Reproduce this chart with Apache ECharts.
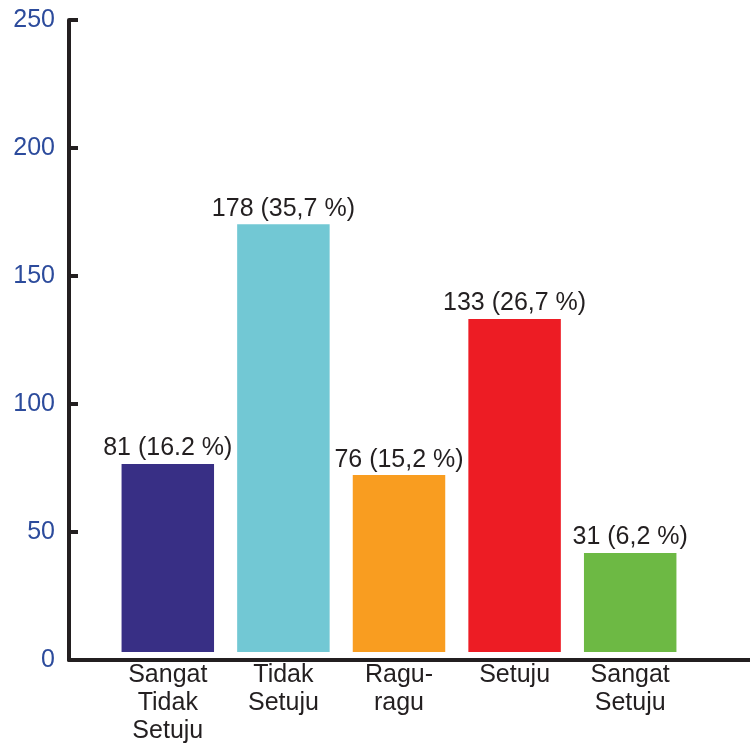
<!DOCTYPE html>
<html>
<head>
<meta charset="utf-8">
<script src="https://cdn.jsdelivr.net/npm/echarts@6/dist/echarts.min.js"></script>
<style>
  html, body { margin: 0; padding: 0; background: #fff; }
  #chart { width: 750px; height: 749px; }
</style>
</head>
<body>
<div id="chart"></div>
<script>
// categories under the bars
const categories = ['Sangat\nTidak\nSetuju', 'Tidak\nSetuju', 'Ragu-\nragu', 'Setuju', 'Sangat\nSetuju']
// bar heights as drawn (they sit a little above the x axis line)
const barHeights = [73.6, 167.4, 69.2, 130.3, 38.7]
// text printed above each bar
const barLabels = ['81 (16.2 %)', '178 (35,7 %)', '76 (15,2 %)', '133 (26,7 %)', '31 (6,2 %)']
const barColors = ['#382f85', '#72c8d4', '#f99d20', '#ed1c24', '#6db944']
const yTicks = [0, 50, 100, 150, 200, 250]

const font = "'Liberation Sans', Arial, sans-serif"
const ink = '#231f20'

const chart = echarts.init(document.getElementById('chart'))

const option = {
  animation: false,
  backgroundColor: '#fff',
  grid: [
    // frame: y axis + long x axis line
    { left: 69, right: 0, top: 20, bottom: 89 },
    // bars
    { left: 110, right: 62, top: 13, bottom: 97 }
  ],
  xAxis: [
    {
      gridIndex: 0,
      type: 'value',
      min: 0,
      max: 1,
      axisLine: { show: true, onZero: false, lineStyle: { color: ink, width: 4 } },
      axisTick: { show: false },
      axisLabel: { show: false },
      splitLine: { show: false }
    },
    {
      gridIndex: 1,
      type: 'category',
      data: categories,
      axisLine: { show: false },
      axisTick: { show: false },
      axisLabel: {
        margin: 9,
        fontFamily: font,
        fontSize: 25,
        lineHeight: 28,
        color: ink,
        interval: 0
      }
    }
  ],
  yAxis: [
    {
      gridIndex: 0,
      type: 'value',
      min: 0,
      max: 250,
      interval: 50,
      axisLine: { show: true, lineStyle: { color: ink, width: 4 } },
      axisTick: { show: true, inside: true, length: 9, lineStyle: { color: ink, width: 4 } },
      axisLabel: {
        margin: 14,
        fontFamily: font,
        fontSize: 25,
        color: '#2c4b9c',
        formatter: v => (yTicks.includes(v) ? String(v) : '')
      },
      splitLine: { show: false }
    },
    {
      gridIndex: 1,
      type: 'value',
      min: 0,
      max: 250,
      show: false,
      splitLine: { show: false }
    }
  ],
  series: [
    {
      type: 'bar',
      xAxisIndex: 1,
      yAxisIndex: 1,
      barCategoryGap: '20%',
      data: barHeights.map((v, i) => ({ value: v, itemStyle: { color: barColors[i] } })),
      label: {
        show: true,
        position: 'top',
        distance: 3,
        fontFamily: font,
        fontSize: 25,
        color: ink,
        formatter: p => barLabels[p.dataIndex]
      }
    }
  ]
}

chart.setOption(option)
</script>
</body>
</html>
